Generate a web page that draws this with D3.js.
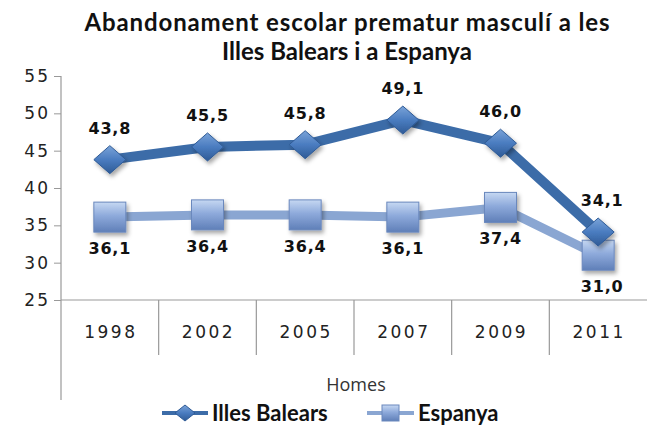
<!DOCTYPE html>
<html>
<head>
<meta charset="utf-8">
<script src="https://cdn.jsdelivr.net/npm/d3@7"></script>
<style>
  body { margin: 0; background: #fff; }
  svg { display: block; }
</style>
</head>
<body>
<svg id="chart" width="650" height="427"></svg>
<script>
// data
let years = ["1998", "2002", "2005", "2007", "2009", "2011"];
let balears = [43.8, 45.5, 45.8, 49.1, 46.0, 34.1];
let espanya = [36.1, 36.4, 36.4, 36.1, 37.4, 31.0];
let yTicks = [25, 30, 35, 40, 45, 50, 55];
let seriesNames = ["Illes Balears", "Espanya"];
let titleLines = ["Abandonament escolar prematur masculí a les", "Illes Balears i a Espanya"];

let svg = d3.select("#chart");
let plotLeft = 61, plotRight = 647, plotTop = 76, plotBottom = 300;

let x = d3.scaleBand().domain(years).range([plotLeft, plotRight]);
let y = d3.scaleLinear().domain([25, 55]).range([plotBottom, plotTop]);

// gradients + shadow
let defs = svg.append("defs");
let g1 = defs.append("linearGradient").attr("id", "gDia").attr("x1", 0).attr("y1", 0).attr("x2", 0).attr("y2", 1);
g1.append("stop").attr("offset", "0%").attr("stop-color", "#7aa3d8");
g1.append("stop").attr("offset", "50%").attr("stop-color", "#4a7cc0");
g1.append("stop").attr("offset", "100%").attr("stop-color", "#2f5b96");
let g2 = defs.append("linearGradient").attr("id", "gSq").attr("x1", 0).attr("y1", 0).attr("x2", 0).attr("y2", 1);
g2.append("stop").attr("offset", "0%").attr("stop-color", "#c6d8f2");
g2.append("stop").attr("offset", "45%").attr("stop-color", "#8eaadb");
g2.append("stop").attr("offset", "100%").attr("stop-color", "#5f7fb8");
let sh = defs.append("filter").attr("id", "shadow").attr("x", "-30%").attr("y", "-30%").attr("width", "170%").attr("height", "170%");
sh.append("feDropShadow").attr("dx", 2).attr("dy", 3).attr("stdDeviation", 2).attr("flood-color", "#000").attr("flood-opacity", 0.35);

// title
svg.append("g").selectAll("text").data(titleLines).enter().append("text")
    .attr("x", 347).attr("y", (d, i) => 31 + i * 29)
    .attr("text-anchor", "middle")
    .attr("font-family", "Lato, 'Open Sans', sans-serif")
    .attr("font-weight", "bold").attr("font-size", 24)
    .attr("fill", "#111")
    .each(function (d, i) { if (i === 0) d3.select(this).attr("textLength", 525).attr("lengthAdjust", "spacing"); })
    .text(d => d);

// y axis
let yAxis = d3.axisLeft(y).tickValues(yTicks).tickSize(7).tickFormat(d => d);
let ya = svg.append("g").attr("transform", "translate(" + plotLeft + ",0)").call(yAxis);
ya.select(".domain").remove();
ya.selectAll("line").attr("stroke", "#999");
ya.selectAll("text").attr("font-family", "'DejaVu Sans', sans-serif").attr("font-size", 17)
    .attr("letter-spacing", 2).attr("fill", "#222").attr("x", -11);
// y axis line extended down past categories
svg.append("line").attr("x1", plotLeft).attr("x2", plotLeft).attr("y1", plotTop).attr("y2", 400)
    .attr("stroke", "#999").attr("stroke-width", 1.2);

// x axis line and category separators
svg.append("line").attr("x1", plotLeft).attr("x2", plotRight).attr("y1", plotBottom).attr("y2", plotBottom)
    .attr("stroke", "#999").attr("stroke-width", 1.2);
svg.append("g").selectAll("line").data(years.slice(1)).enter().append("line")
    .attr("x1", d => x(d)).attr("x2", d => x(d))
    .attr("y1", plotBottom).attr("y2", 355)
    .attr("stroke", "#999").attr("stroke-width", 1.2);
svg.append("g").selectAll("text").data(years).enter().append("text")
    .attr("x", d => x(d) + x.bandwidth() / 2 + 1).attr("y", 338)
    .attr("text-anchor", "middle")
    .attr("font-family", "'DejaVu Sans', sans-serif").attr("font-size", 17)
    .attr("letter-spacing", 2.5).attr("fill", "#222")
    .text(d => d);

// axis title
svg.append("text").attr("x", 356).attr("y", 391).attr("text-anchor", "middle")
    .attr("font-family", "'Open Sans', sans-serif").attr("font-size", 18).attr("fill", "#333")
    .text("Homes");

let cx = d => x(d) + x.bandwidth() / 2;
let line = d3.line().x((d, i) => cx(years[i])).y(d => y(d));

// Espanya line
svg.append("path").datum(espanya).attr("d", line)
    .attr("fill", "none").attr("stroke", "#8aa6d2").attr("stroke-width", 9).attr("stroke-linejoin", "round");
// Balears line
svg.append("path").datum(balears).attr("d", line)
    .attr("fill", "none").attr("stroke", "#3c6ca8").attr("stroke-width", 10).attr("stroke-linejoin", "round");

svg.append("g").selectAll("rect").data(espanya).enter().append("rect")
    .attr("x", (d, i) => cx(years[i]) - 16).attr("y", d => y(d) - 15)
    .attr("width", 32).attr("height", 30)
    .attr("fill", "url(#gSq)").attr("stroke", "#6a88bd").attr("stroke-width", 1)
    .attr("filter", "url(#shadow)");

svg.append("g").selectAll("path").data(balears).enter().append("path")
    .attr("d", (d, i) => {
        let px = cx(years[i]), py = y(d);
        return "M" + (px - 16) + "," + py + "L" + px + "," + (py - 14) + "L" + (px + 16) + "," + py + "L" + px + "," + (py + 14) + "Z";
    })
    .attr("fill", "url(#gDia)").attr("stroke", "#2f5b96").attr("stroke-width", 1)
    .attr("filter", "url(#shadow)");

// data labels
let fmt = v => v.toFixed(1).replace(".", ",");
svg.append("g").selectAll("text").data(balears).enter().append("text")
    .attr("x", (d, i) => cx(years[i]) + (i === 5 ? 4 : 0)).attr("y", d => y(d) - 26)
    .attr("text-anchor", "middle")
    .attr("font-family", "'DejaVu Sans', sans-serif").attr("font-weight", "bold").attr("font-size", 16)
    .attr("letter-spacing", 0.8).attr("fill", "#111")
    .text(d => fmt(d));
svg.append("g").selectAll("text").data(espanya).enter().append("text")
    .attr("x", (d, i) => cx(years[i]) + (i === 5 ? 4 : 0)).attr("y", d => y(d) + 37)
    .attr("text-anchor", "middle")
    .attr("font-family", "'DejaVu Sans', sans-serif").attr("font-weight", "bold").attr("font-size", 16)
    .attr("letter-spacing", 0.8).attr("fill", "#111")
    .text(d => fmt(d));

// legend
let leg = svg.append("g");
leg.append("line").attr("x1", 162).attr("x2", 208).attr("y1", 413).attr("y2", 413)
    .attr("stroke", "#3c6ca8").attr("stroke-width", 4);
leg.append("path").attr("d", "M175,413L185,405L195,413L185,421Z").attr("fill", "url(#gDia)").attr("stroke", "#2f5b96");
leg.append("text").attr("x", 212).attr("y", 421).text(seriesNames[0])
    .attr("font-family", "Lato, sans-serif").attr("font-weight", "bold").attr("font-size", 22).attr("fill", "#111");
leg.append("line").attr("x1", 367).attr("x2", 414).attr("y1", 413).attr("y2", 413)
    .attr("stroke", "#8aa6d2").attr("stroke-width", 4);
leg.append("rect").attr("x", 382).attr("y", 405).attr("width", 17).attr("height", 16)
    .attr("fill", "url(#gSq)").attr("stroke", "#6a88bd");
leg.append("text").attr("x", 418).attr("y", 421).text(seriesNames[1])
    .attr("font-family", "Lato, sans-serif").attr("font-weight", "bold").attr("font-size", 22).attr("fill", "#111");
</script>
</body>
</html>
